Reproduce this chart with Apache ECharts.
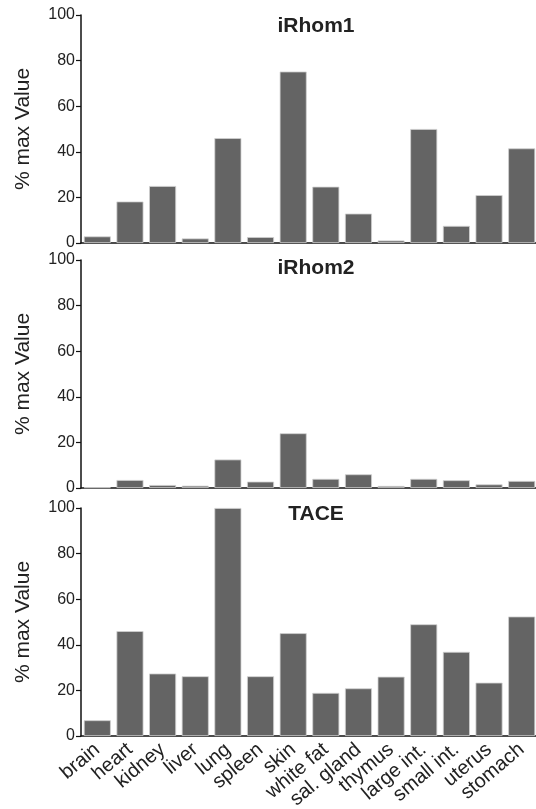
<!DOCTYPE html>
<html>
<head>
<meta charset="utf-8">
<script src="https://cdn.jsdelivr.net/npm/echarts@6/dist/echarts.min.js"></script>
<style>
html,body{margin:0;padding:0;background:#fff;}
#c{width:536px;height:809px;}
</style>
</head>
<body>
<div id="c"></div>
<script>
var categories = ['brain','heart','kidney','liver','lung','spleen','skin','white fat','sal. gland','thymus','large int.','small int.','uterus','stomach'];
var panelTitles = ['iRhom1','iRhom2','TACE'];
var iRhom1 = [2.9, 18.2, 25, 2.0, 46, 2.6, 75.2, 24.7, 12.9, 1.1, 50, 7.5, 21, 41.5];
var iRhom2 = [0.3, 3.5, 1.3, 1.0, 12.5, 2.8, 24, 4.0, 6.0, 0.9, 4.0, 3.4, 1.6, 3.1];
var TACE = [6.9, 46, 27.4, 26.2, 100, 26.2, 45.1, 18.9, 20.9, 26, 49, 36.9, 23.4, 52.4];
var yTicks = [0, 20, 40, 60, 80, 100];

var seriesData = [iRhom1, iRhom2, TACE];
var tops = [15, 260, 508];
var H = 228;
var font = 'Liberation Sans, Arial, Helvetica, sans-serif';

var grids = [], xAxes = [], yAxes = [], series = [], titles = [];
for (var i = 0; i < 3; i++) {
  grids.push({left: 81, right: -2, top: tops[i], height: H, containLabel: false, outerBoundsMode: 'none'});
  xAxes.push({
    type: 'category', gridIndex: i, data: categories,
    axisLine: {lineStyle: {color: '#111', width: 1.5}},
    axisTick: {show: false},
    axisLabel: i === 2 ? {
      show: true, rotate: 40, interval: 0, margin: 11,
      verticalAlign: 'middle', align: 'right',
      fontSize: 20, color: '#222', fontFamily: font
    } : {show: false}
  });
  yAxes.push({
    type: 'value', gridIndex: i, min: 0, max: 100, interval: 20,
    name: '% max Value', nameLocation: 'middle', nameGap: 47,
    nameTextStyle: {fontSize: 21, color: '#222', fontFamily: font},
    axisLine: {show: true, lineStyle: {color: '#111', width: 1.5}},
    axisTick: {show: true, length: 5, lineStyle: {color: '#111', width: 1.2}},
    axisLabel: {
      fontSize: 16, color: '#222', fontFamily: font, margin: 6,
      formatter: function (v) { return yTicks.indexOf(v) >= 0 ? String(v) : ''; }
    },
    splitLine: {show: false}
  });
  series.push({
    type: 'bar', xAxisIndex: i, yAxisIndex: i, data: seriesData[i],
    barWidth: 27,
    itemStyle: {color: '#646464', borderColor: '#d0d0d0', borderWidth: 0.8},
    silent: true, animation: false
  });
  titles.push({
    text: panelTitles[i], left: 311, top: [11, 253, 499][i], textAlign: 'center',
    textStyle: {fontSize: 21, fontWeight: 'bold', color: '#222', fontFamily: font}
  });
}

var chart = echarts.init(document.getElementById('c'), null, {renderer: 'canvas'});
chart.setOption({
  animation: false,
  backgroundColor: '#fff',
  title: titles,
  grid: grids,
  xAxis: xAxes,
  yAxis: yAxes,
  series: series
});
</script>
</body>
</html>
